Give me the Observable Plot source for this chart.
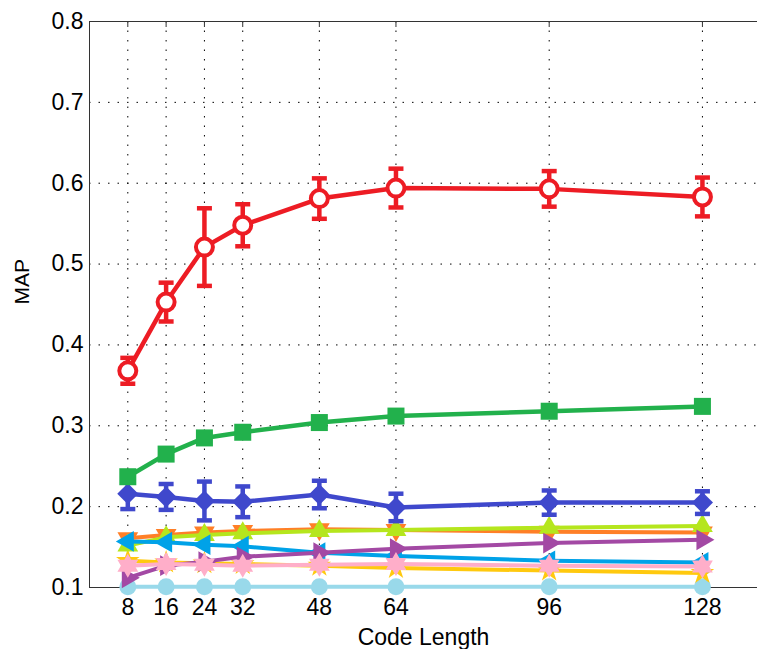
<!DOCTYPE html>
<html>
<head>
<meta charset="utf-8">
<script src="https://cdn.jsdelivr.net/npm/d3@7"></script>
<script src="https://cdn.jsdelivr.net/npm/@observablehq/plot@0.6"></script>
<style>
  html, body { margin: 0; padding: 0; background: #fff; }
  #chart { width: 757px; height: 649px; }
</style>
</head>
<body>
<div id="chart"></div>
<script>
// ---- data ----
const codeLengths = [8, 16, 24, 32, 48, 64, 96, 128];
const yTicks = [0.1, 0.2, 0.3, 0.4, 0.5, 0.6, 0.7, 0.8];

const redMAP    = [0.368, 0.453, 0.521, 0.548, 0.581, 0.594, 0.593, 0.583];
const redErr    = [0.016, 0.024, 0.048, 0.026, 0.025, 0.024, 0.022, 0.024];
const greenMAP  = [0.237, 0.265, 0.285, 0.292, 0.304, 0.312, 0.318, 0.324];
const blueMAP   = [0.216, 0.212, 0.207, 0.206, 0.215, 0.199, 0.205, 0.205];
const blueErr   = [0.019, 0.016, 0.024, 0.019, 0.017, 0.017, 0.015, 0.014];
const orangeMAP = [0.161, 0.165, 0.168, 0.170, 0.172, 0.171, 0.169, 0.168];
const limeMAP   = [0.152, 0.162, 0.165, 0.167, 0.170, 0.171, 0.174, 0.176];
const cyanMAP   = [0.157, 0.156, 0.153, 0.151, 0.143, 0.139, 0.133, 0.131];
const purpleMAP = [0.112, 0.127, 0.132, 0.138, 0.143, 0.148, 0.155, 0.159];
const goldMAP   = [0.133, 0.131, 0.130, 0.129, 0.127, 0.124, 0.121, 0.118];
const pinkMAP   = [0.127, 0.129, 0.128, 0.127, 0.128, 0.129, 0.127, 0.126];
const skyMAP    = [0.101, 0.101, 0.101, 0.101, 0.101, 0.101, 0.101, 0.101];

// ---- custom marker symbols ----
function triangleSymbol(angleDeg) {
  return {
    draw(ctx, size) {
      const R = Math.sqrt(size / Math.PI);
      for (let i = 0; i < 3; i++) {
        const a = (angleDeg + i * 120) * Math.PI / 180;
        const px = R * Math.cos(a), py = -R * Math.sin(a);
        if (i === 0) ctx.moveTo(px, py); else ctx.lineTo(px, py);
      }
      ctx.closePath();
    }
  };
}
const triUp = triangleSymbol(90);
const triDown = triangleSymbol(-90);
const triLeft = triangleSymbol(180);
const triRight = triangleSymbol(0);
const hexagram = {
  draw(ctx, size) {
    const R = Math.sqrt(size / Math.PI), r = R / Math.sqrt(3);
    for (let i = 0; i < 12; i++) {
      const a = (90 + i * 30) * Math.PI / 180;
      const rr = i % 2 === 0 ? R : r;
      const px = rr * Math.cos(a), py = -rr * Math.sin(a);
      if (i === 0) ctx.moveTo(px, py); else ctx.lineTo(px, py);
    }
    ctx.closePath();
  }
};
const hline = {
  draw(ctx, size) {
    const w = Math.sqrt(size / Math.PI);
    ctx.moveTo(-w, 0); ctx.lineTo(w, 0);
  }
};

// series in drawing order (bottom -> top)
const series = [
  {name: "sky",    values: skyMAP,    color: "#99D9EA", symbol: "circle",  r: 8.5, sw: 4},
  {name: "gold",   values: goldMAP,   color: "#FFC90E", symbol: "star",    r: 7.4, sw: 4},
  {name: "orange", values: orangeMAP, color: "#FF7F27", symbol: triDown,   r: 12,  sw: 4},
  {name: "lime",   values: limeMAP,   color: "#B5E61D", symbol: triUp,     r: 12,  sw: 4},
  {name: "cyan",   values: cyanMAP,   color: "#00A2E8", symbol: triLeft,   r: 12,  sw: 4},
  {name: "purple", values: purpleMAP, color: "#A349A4", symbol: triRight,  r: 12,  sw: 4},
  {name: "pink",   values: pinkMAP,   color: "#FFAEC9", symbol: hexagram,  r: 12,  sw: 4},
  {name: "blue",   values: blueMAP,   err: blueErr, color: "#3F48CC", symbol: "diamond2", r: 9.5, sw: 4.5},
  {name: "green",  values: greenMAP,  color: "#22B14C", symbol: "square",  r: 9.6, sw: 4.5},
  {name: "red",    values: redMAP,    err: redErr, color: "#ED1C24", symbol: "circle", r: 8.5, sw: 4.5, open: true}
];

const marks = [];
// grid
marks.push(Plot.gridY(yTicks.slice(1, -1), {stroke: "#000", strokeOpacity: 1, strokeWidth: 1, strokeDasharray: "1.5,8"}));
marks.push(Plot.gridX(codeLengths, {stroke: "#000", strokeOpacity: 1, strokeWidth: 1, strokeDasharray: "1.5,8"}));
// frame (left, top, bottom)
marks.push(Plot.ruleY([yTicks[0], yTicks[yTicks.length - 1]], {stroke: "#333", strokeWidth: 1}));
marks.push(Plot.ruleX([0], {stroke: "#333", strokeWidth: 1}));
// axes
marks.push(Plot.axisX(codeLengths, {tickSize: 0, tickPadding: 11, fontSize: 23, label: null}));
marks.push(Plot.axisX(codeLengths, {anchor: "top", tickSize: -5, tickFormat: () => "", label: null, stroke: "#333"}));
marks.push(Plot.axisY(yTicks, {tickSize: 0, tickPadding: 6, tickFormat: ".1f", fontSize: 23, label: null}));

for (const s of series) {
  const rows = codeLengths.map((x, i) => ({x, y: s.values[i], e: s.err ? s.err[i] : 0}));
  marks.push(Plot.line(rows, {x: "x", y: "y", stroke: s.color, strokeWidth: s.sw}));
  if (s.err) {
    marks.push(Plot.ruleX(rows, {x: "x", y1: d => d.y - d.e, y2: d => d.y + d.e, stroke: s.color, strokeWidth: 4.5}));
    marks.push(Plot.dot(rows, {x: "x", y: d => d.y + d.e, symbol: hline, r: 7.5, stroke: s.color, strokeWidth: 4.5}));
    marks.push(Plot.dot(rows, {x: "x", y: d => d.y - d.e, symbol: hline, r: 7.5, stroke: s.color, strokeWidth: 4.5}));
  }
  if (s.open) {
    marks.push(Plot.dot(rows, {x: "x", y: "y", symbol: s.symbol, r: s.r, fill: "white", stroke: s.color, strokeWidth: 4}));
  } else {
    marks.push(Plot.dot(rows, {x: "x", y: "y", symbol: s.symbol, r: s.r, fill: s.color, stroke: "none"}));
  }
}

// axis titles
marks.push(Plot.text(["Code Length"], {text: d => d, frameAnchor: "bottom", dy: 57, fontSize: 23, fill: "#000"}));
marks.push(Plot.text(["MAP"], {text: d => d, frameAnchor: "left", dx: -67, rotate: -90, fontSize: 21, fill: "#000"}));

const chart = Plot.plot({
  width: 757,
  height: 649,
  marginLeft: 89,
  marginRight: 0,
  marginTop: 21,
  marginBottom: 62,
  x: {domain: [0, 139.5]},
  y: {domain: [0.1, 0.8]},
  style: {fontFamily: "'Liberation Sans', Arial, sans-serif", fontSize: "23px", color: "#000", background: "#fff", overflow: "visible"},
  marks
});
document.getElementById("chart").appendChild(chart);
</script>
</body>
</html>
